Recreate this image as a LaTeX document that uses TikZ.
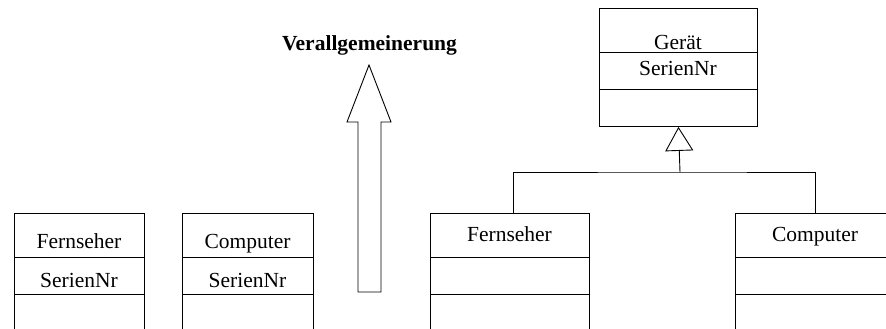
\documentclass[tikz,border=0pt]{standalone}
\usepackage{fontspec}
\setmainfont{Liberation Serif}
\usetikzlibrary{arrows.meta}
\begin{document}
\begin{tikzpicture}[x=1pt,y=-1pt,line width=0.9pt,
  part/.style={draw, rectangle, inner sep=0pt, anchor=north west},
  lbl/.style={anchor=base, inner sep=0pt, font=\fontsize{21.5}{24}\selectfont},
  gen/.style={-{Triangle[open,length=24pt,width=28pt]}}]
\useasboundingbox (0,0) rectangle (886,329);
\clip (0,0) rectangle (886,329);
% left Fernseher
\node[part, minimum width=130pt, minimum height=44pt] (LF1) at (14,213) {};
\node[part, minimum width=130pt, minimum height=37pt] (LF2) at (14,257) {};
\node[part, minimum width=130pt, minimum height=50pt] (LF3) at (14,294) {};
\node[lbl] (LFt) at (79,248) {Fernseher};
\node[lbl] (LFs) at (79,287) {SerienNr};
% left Computer
\node[part, minimum width=131pt, minimum height=44pt] (LC1) at (182,213) {};
\node[part, minimum width=131pt, minimum height=37pt] (LC2) at (182,257) {};
\node[part, minimum width=131pt, minimum height=50pt] (LC3) at (182,294) {};
\node[lbl] (LCt) at (247.5,248) {Computer};
\node[lbl] (LCs) at (247.5,287) {SerienNr};
% big arrow
\draw (358,292) -- (358,122) -- (347,122) -- (369,65) -- (391,122) -- (381,122) -- (381,292) -- cycle;
\node[lbl, font=\fontsize{21.5}{24}\selectfont\bfseries] (V) at (369.5,51) {Verallgemeinerung};
% Geraet
\node[part, minimum width=158pt, minimum height=44pt] (G1) at (599,8) {};
\node[part, minimum width=158pt, minimum height=37pt] (G2) at (599,52) {};
\node[part, minimum width=158pt, minimum height=37pt] (G3) at (599,89) {};
\node[lbl] (Gt) at (678,50) {Gerät};
\node[lbl] (Gs) at (678,75) {SerienNr};
% right Fernseher
\node[part, minimum width=159pt, minimum height=44pt] (RF1) at (430,213) {};
\node[part, minimum width=159pt, minimum height=37pt] (RF2) at (430,257) {};
\node[part, minimum width=159pt, minimum height=50pt] (RF3) at (430,294) {};
\node[lbl] (RFt) at (509.5,241) {Fernseher};
% right Computer
\node[part, minimum width=159pt, minimum height=44pt] (RC1) at (735,213) {};
\node[part, minimum width=159pt, minimum height=37pt] (RC2) at (735,257) {};
\node[part, minimum width=159pt, minimum height=50pt] (RC3) at (735,294) {};
\node[lbl] (RCt) at (815,241) {Computer};
% generalization
\coordinate (J) at (680,172);
\draw ([xshift=3.5pt]RF1.north) |- (J) -| (RC1.north);
\draw[gen] (J) -- (G3.south);
\end{tikzpicture}
\end{document}
